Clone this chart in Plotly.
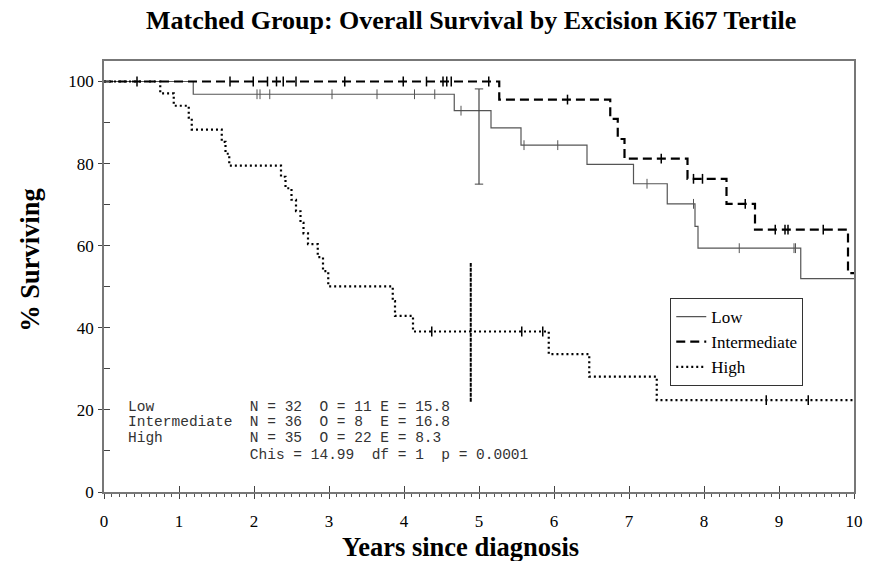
import numpy as np
import plotly.graph_objects as go

# ---- data ----
low_t = [0, 1.19, 4.67, 5.16, 5.56, 6.44, 7.06, 7.51, 7.88, 7.92, 9.29, 10]
low_s = [100, 96.9, 92.9, 88.7, 84.5, 79.8, 75.1, 70.2, 64.7, 59.4, 52.0, 52.0]
low_cens = [2.04, 2.08, 2.21, 3.04, 3.64, 4.14, 4.41, 4.76, 5.60, 6.05, 7.24, 7.86, 8.47, 9.20, 9.22]

int_t = [0, 5.27, 6.75, 6.85, 6.94, 7.78, 8.30, 8.68, 9.92, 10]
int_s = [100, 95.6, 90.9, 86.0, 81.2, 76.3, 70.2, 63.9, 53.3, 53.3]
int_cens = [0.44, 1.68, 1.99, 2.18, 2.30, 2.39, 2.56, 3.21, 3.99, 4.30, 4.52, 4.57, 4.63,
            5.13, 6.18, 7.43, 7.86, 7.98, 8.55, 8.95, 9.08, 9.12, 9.59]

high_t = [0, 0.75, 0.93, 1.13, 1.17, 1.57, 1.62, 1.67, 2.36, 2.42, 2.50, 2.56, 2.62, 2.66,
          2.72, 2.85, 2.92, 2.99, 3.85, 3.88, 4.12, 5.93, 6.47, 7.37, 10]
high_s = [100, 97.1, 94.1, 91.2, 88.3, 85.3, 82.4, 79.5, 76.8, 74.0, 71.2, 68.4, 65.6, 63.0,
          60.4, 57.2, 53.8, 50.1, 46.5, 42.9, 39.1, 33.6, 28.1, 22.4, 22.4]
high_cens = [4.37, 5.57, 5.85, 8.83, 9.39]

low_ci_x, low_ci = 5.0, [75.0, 98.2]
high_ci_x, high_ci = 4.89, [22.0, 55.8]

x_ticks = list(range(0, 11))
y_ticks = [0, 20, 40, 60, 80, 100]

stats_lines = [
    "Low           N = 32  O = 11 E = 15.8",
    "Intermediate  N = 36  O = 8  E = 16.8",
    "High          N = 35  O = 22 E = 8.3",
    "              Chis = 14.99  df = 1  p = 0.0001",
]
stats_y = [20.7, 17.0, 13.2, 9.0]


def step_at(ts, ss, x):
    i = np.searchsorted(np.array(ts), x, side="right") - 1
    return [ss[j] for j in i]


SERIF = "Liberation Serif, Times New Roman, serif"
MONO = "Liberation Mono, Courier New, monospace"

fig = go.Figure()

fig.add_trace(go.Scatter(x=low_t, y=low_s, mode="lines", name="Low",
                         line=dict(shape="hv", color="#555555", width=1.2)))
fig.add_trace(go.Scatter(x=int_t, y=int_s, mode="lines", name="Intermediate",
                         line=dict(shape="hv", color="black", width=2.2, dash="9px,5px")))
fig.add_trace(go.Scatter(x=high_t, y=high_s, mode="lines", name="High",
                         line=dict(shape="hv", color="black", width=2.2, dash="2px,3px")))

# censor marks
for ts, ss, cens, col, w in [(low_t, low_s, low_cens, "#555555", 1),
                             (int_t, int_s, int_cens, "black", 1.5),
                             (high_t, high_s, high_cens, "black", 1.5)]:
    fig.add_trace(go.Scatter(x=cens, y=step_at(ts, ss, cens), mode="markers",
                             showlegend=False, hoverinfo="skip",
                             marker=dict(symbol="line-ns", size=7,
                                         line=dict(color=col, width=w))))

# confidence bars
fig.add_trace(go.Scatter(x=[low_ci_x, low_ci_x], y=low_ci, mode="lines", showlegend=False,
                         line=dict(color="#444444", width=1.2)))
fig.add_trace(go.Scatter(x=[low_ci_x] * 2, y=low_ci, mode="markers", showlegend=False,
                         marker=dict(symbol="line-ew", size=6, line=dict(color="#444444", width=1))))
fig.add_trace(go.Scatter(x=[high_ci_x, high_ci_x], y=high_ci, mode="lines", showlegend=False,
                         line=dict(color="black", width=2, dash="4px,1px")))

# invisible trace on the overlay axes (inner ticks)
fig.add_trace(go.Scatter(x=[None], y=[None], xaxis="x2", yaxis="y2", showlegend=False))

for txt, yv in zip(stats_lines, stats_y):
    fig.add_annotation(x=0.29, y=yv, xref="x", yref="y", text=txt.replace(" ", "&nbsp;"),
                       showarrow=False, xanchor="left", yanchor="middle",
                       font=dict(family=MONO, size=14.5, color="#333333"))

fig.add_annotation(x=0.475, y=-0.128, xref="paper", yref="paper", xanchor="center", yanchor="middle",
                   text="<b>Years since diagnosis</b>", showarrow=False,
                   font=dict(family=SERIF, size=26.5, color="black"))
fig.add_annotation(x=-0.099, y=0.538, xref="paper", yref="paper", textangle=-90,
                   xanchor="center", yanchor="middle",
                   text="<b>% Surviving</b>", showarrow=False,
                   font=dict(family=SERIF, size=26.5, color="black"))

fig.update_layout(
    width=879, height=561,
    margin=dict(l=104, r=25, t=61, b=69),
    paper_bgcolor="white", plot_bgcolor="white",
    title=dict(text="<b>Matched Group: Overall Survival by Excision Ki67 Tertile</b>",
               x=0.536, xanchor="center", y=0.964, yanchor="middle",
               font=dict(family=SERIF, size=26, color="black")),
    xaxis=dict(range=[0, 10], tickvals=x_ticks, ticks="outside", ticklen=5, tickcolor="#444",
               showline=True, linecolor="#777777", linewidth=1.5, mirror=True,
               showgrid=False, zeroline=False,
               minor=dict(dtick=0.1, ticks="outside", ticklen=3, tickcolor="#555", showgrid=False),
               tickfont=dict(family=SERIF, size=17, color="black"), ticklabelstandoff=8),
    yaxis=dict(range=[0, 105], tickvals=y_ticks, ticks="outside", ticklen=4, tickcolor="#444",
               showline=True, linecolor="#777777", linewidth=1.5, mirror=True,
               showgrid=False, zeroline=False,
               tickfont=dict(family=SERIF, size=17, color="black"), ticklabelstandoff=1),
    xaxis2=dict(range=[0, 10], overlaying="x", anchor="y", side="bottom", dtick=1,
                ticks="inside", ticklen=6, tickcolor="#444", showticklabels=False,
                showgrid=False, zeroline=False, showline=False),
    yaxis2=dict(range=[0, 105], overlaying="y", anchor="x", side="left", dtick=10,
                ticks="inside", ticklen=6, tickcolor="#444", showticklabels=False,
                showgrid=False, zeroline=False, showline=False),
    legend=dict(x=0.755, y=0.450, xanchor="left", yanchor="top",
                bgcolor="white", bordercolor="#333333", borderwidth=1,
                font=dict(family=SERIF, size=17, color="black"),
                tracegroupgap=0),
    showlegend=True,
)

fig.write_html("out.html")
